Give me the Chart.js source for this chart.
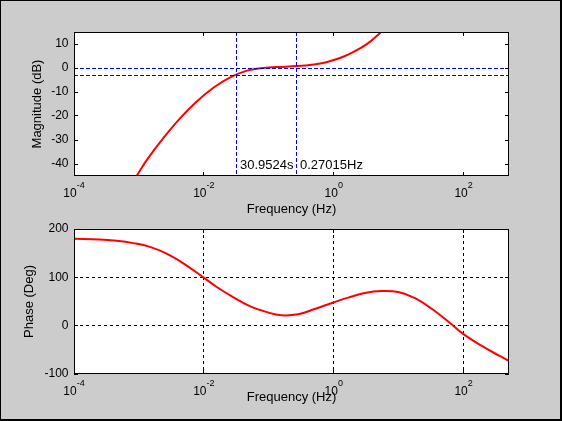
<!DOCTYPE html>
<html>
<head>
<meta charset="utf-8">
<title>Bode plot</title>
<script src="https://cdn.jsdelivr.net/npm/chart.js@4.4.1/dist/chart.umd.min.js"></script>
<style>
  html, body { margin: 0; padding: 0; background: #cccccc; }
  #fig { position: relative; width: 562px; height: 421px; background: #cccccc; overflow: hidden; }
  #fig canvas { position: absolute; left: 0; top: 0; }
  #frame {
    position: absolute; left: 0; top: 0; width: 562px; height: 421px; box-sizing: border-box;
    border-top: 1px solid #000; border-left: 1px solid #000;
    border-right: 2px solid #000; border-bottom: 2px solid #000;
    pointer-events: none; z-index: 5;
  }
</style>
</head>
<body>
<div id="fig">
  <canvas id="mag" width="562" height="421"></canvas>
  <canvas id="phase" width="562" height="421"></canvas>
  <div id="frame"></div>
</div>
<script>
'use strict';

// frequency axis (Hz), shared by both plots
const xMin = 1e-4;
const xMax = 500;
const xTickVals = [1e-4, 1e-2, 1, 1e2];
const xTickBase = '10';
const xTickExps = ['-4', '-2', '0', '2'];

// magnitude plot
const magYMin = -45;
const magYMax = 15;
const magYTicks = [-40, -30, -20, -10, 0, 10];
const magFreq = [0.00092, 0.00131, 0.00237, 0.00429, 0.00776, 0.0140, 0.0254, 0.0461,
                 0.0738, 0.134, 0.272, 0.491, 0.791, 1.43, 2.58, 3.69, 5.26];
const magDb   = [-45, -38.5, -29.25, -21, -14, -8.25, -3.9, -1.1,
                 -0.1, 0.4, 0.8, 1.5, 2.5, 4.8, 8.3, 11.1, 14.8];
const refLevels = [0, -3];                 // dB, blue dashed
const markerFreqs = [1 / 30.9524, 0.27015]; // Hz, blue dashed
const markerLabels = ['30.9524s', '0.27015Hz'];
const markerLabelLevel = -40;

// phase plot
const phaseYMin = -100;
const phaseYMax = 200;
const phaseYTicks = [-100, 0, 100, 200];
const phaseFreq = [1e-4, 2.49e-4, 4.52e-4, 8.15e-4, 0.00148, 0.00267, 0.00482, 0.00982, 0.0158,
                   0.0286, 0.0518, 0.0935, 0.156, 0.282, 0.509, 1.01, 1.67, 3.01,
                   5.46, 9.86, 17.8, 32.3, 58.5, 99.5, 191, 346, 500];
const phaseDeg  = [179.8, 178.4, 175.6, 170.8, 163, 149, 129, 100, 80,
                   58.5, 40, 28, 21.5, 23.5, 34.5, 48.5, 58, 67.5,
                   71.5, 69.5, 57, 35, 8, -17.5, -42, -61.5, -73];

const FONT = "'Liberation Sans', Arial, Helvetica, sans-serif";
Chart.defaults.font.family = FONT;
Chart.defaults.color = '#000';

const zip = (xs, ys) => xs.map((x, i) => ({ x, y: ys[i] }));
const px = v => Math.floor(v) + 0.5;

// MATLAB-like axes: white box, inward ticks, dashed grid, 10^n labels, ref lines
const matlabAxes = {
    id: 'matlabAxes',
    beforeDraw(chart) {
        const { ctx, chartArea: a } = chart;
        ctx.save();
        ctx.fillStyle = '#ffffff';
        ctx.fillRect(a.left, a.top, a.right - a.left, a.bottom - a.top);
        ctx.restore();
    },
    beforeDatasetsDraw(chart, args, opts) {
        if (!opts.grid) return;
        const { ctx, chartArea: a, scales: { x, y } } = chart;
        ctx.save();
        ctx.strokeStyle = '#000';
        ctx.lineWidth = 1;
        ctx.setLineDash([3, 3]);
        ctx.beginPath();
        xTickVals.forEach(v => {
            const p = px(x.getPixelForValue(v));
            if (p < a.left + 2 || p > a.right - 2) return;
            ctx.moveTo(p, a.top); ctx.lineTo(p, a.bottom);
        });
        opts.yTicks.forEach(v => {
            const p = px(y.getPixelForValue(v));
            if (p < a.top + 2 || p > a.bottom - 2) return;
            ctx.moveTo(a.left, p); ctx.lineTo(a.right, p);
        });
        ctx.stroke();
        ctx.restore();
    },
    afterDatasetsDraw(chart, args, opts) {
        const { ctx, chartArea: a, scales: { x, y } } = chart;
        ctx.save();

        // reference lines
        if (opts.refLevels || opts.markerFreqs) {
            ctx.strokeStyle = '#0000ff';
            ctx.lineWidth = 1;
            ctx.setLineDash([4, 2]);
            ctx.beginPath();
            (opts.refLevels || []).forEach(v => {
                const p = px(y.getPixelForValue(v));
                ctx.moveTo(a.left, p); ctx.lineTo(a.right, p);
            });
            (opts.markerFreqs || []).forEach(f => {
                const p = px(x.getPixelForValue(f));
                ctx.moveTo(p, a.top); ctx.lineTo(p, a.bottom);
            });
            ctx.stroke();
            ctx.setLineDash([]);
        }

        // box + inward ticks
        const TL = 4;
        ctx.strokeStyle = '#000';
        ctx.lineWidth = 1;
        ctx.strokeRect(a.left + 0.5, a.top + 0.5, a.right - a.left - 1, a.bottom - a.top - 1);
        ctx.beginPath();
        xTickVals.forEach(v => {
            const p = px(x.getPixelForValue(v));
            ctx.moveTo(p, a.bottom); ctx.lineTo(p, a.bottom - TL);
            ctx.moveTo(p, a.top); ctx.lineTo(p, a.top + TL);
        });
        opts.yTicks.forEach(v => {
            const p = px(y.getPixelForValue(v));
            ctx.moveTo(a.left, p); ctx.lineTo(a.left + TL, p);
            ctx.moveTo(a.right, p); ctx.lineTo(a.right - TL, p);
        });
        ctx.stroke();

        // 10^n tick labels
        ctx.fillStyle = '#000';
        ctx.textBaseline = 'alphabetic';
        ctx.textAlign = 'left';
        const baseY = a.bottom + 20.7;
        xTickVals.forEach((v, i) => {
            ctx.font = '12px ' + FONT;
            const bw = ctx.measureText(xTickBase).width;
            ctx.font = '9px ' + FONT;
            const ew = ctx.measureText(xTickExps[i]).width;
            const x0 = x.getPixelForValue(v) - (bw + ew) / 2;
            ctx.font = '12px ' + FONT;
            ctx.fillText(xTickBase, x0, baseY);
            ctx.font = '9px ' + FONT;
            ctx.fillText(xTickExps[i], x0 + bw, baseY - 8.4);
        });

        // marker annotations
        if (opts.markerLabels) {
            ctx.font = '13px ' + FONT;
            const ty = y.getPixelForValue(markerLabelLevel) + 4.5;
            opts.markerLabels.forEach((t, i) => {
                ctx.fillText(t, Math.floor(x.getPixelForValue(opts.markerFreqs[i])) + 4, ty);
            });
        }
        ctx.restore();
    }
};

function bodeOptions(o) {
    return {
        responsive: false,
        animation: false,
        devicePixelRatio: 1,
        layout: { padding: o.padding },
        elements: { point: { radius: 0 } },
        scales: {
            x: {
                type: 'logarithmic',
                min: xMin,
                max: xMax,
                grid: { display: false, drawTicks: false },
                border: { display: false },
                ticks: { display: false },
                title: { display: true, text: 'Frequency (Hz)', color: '#000',
                         font: { size: 13, family: FONT }, padding: 0 },
                afterFit: s => { s.height = o.xHeight; }
            },
            y: {
                type: 'linear',
                min: o.yMin,
                max: o.yMax,
                grid: { display: false, drawTicks: false },
                border: { display: false },
                ticks: { color: '#000', font: { size: 12, family: FONT }, padding: 5.5, autoSkip: false },
                afterBuildTicks: s => { s.ticks = o.yTicks.map(v => ({ value: v })); },
                title: { display: true, text: o.yTitle, color: '#000',
                         font: { size: 13, family: FONT }, padding: { top: o.yTitlePad, bottom: 0 } },
                afterFit: s => { s.width = 74; }
            }
        },
        plugins: {
            legend: { display: false },
            tooltip: { enabled: false },
            matlabAxes: o.axes
        }
    };
}

new Chart(document.getElementById('mag'), {
    type: 'line',
    data: {
        datasets: [{
            label: 'Magnitude',
            data: zip(magFreq, magDb),
            borderColor: '#ff0000',
            borderWidth: 2,
            tension: 0.4,
            fill: false
        }]
    },
    options: bodeOptions({
        padding: { left: 0, top: 32, right: 53, bottom: 204 },
        xHeight: 41,
        yMin: magYMin, yMax: magYMax, yTicks: magYTicks,
        yTitle: 'Magnitude (dB)', yTitlePad: 29.7,
        axes: { grid: false, yTicks: magYTicks, refLevels, markerFreqs, markerLabels }
    }),
    plugins: [matlabAxes]
});

new Chart(document.getElementById('phase'), {
    type: 'line',
    data: {
        datasets: [{
            label: 'Phase',
            data: zip(phaseFreq, phaseDeg),
            borderColor: '#ff0000',
            borderWidth: 2,
            tension: 0.4,
            fill: false
        }]
    },
    options: bodeOptions({
        padding: { left: 0, top: 229, right: 53, bottom: 16 },
        xHeight: 31,
        yMin: phaseYMin, yMax: phaseYMax, yTicks: phaseYTicks,
        yTitle: 'Phase (Deg)', yTitlePad: 21.2,
        axes: { grid: true, yTicks: phaseYTicks }
    }),
    plugins: [matlabAxes]
});
</script>
</body>
</html>
